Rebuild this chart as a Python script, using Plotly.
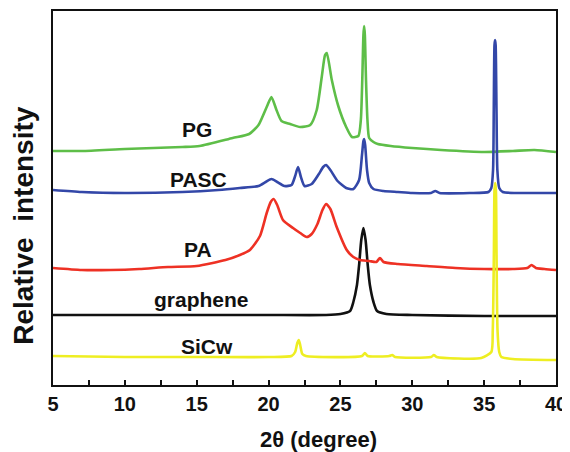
import plotly.graph_objects as go

# ---- data (2θ in degrees, relative intensity in arbitrary offset units) ----
pg_x = [5, 7, 10, 12, 14, 15.2, 17.5, 18.65, 19.3, 19.6, 19.9, 20.2, 20.55, 20.9, 21.5, 22.2, 22.9,
        23.35, 23.7, 23.93, 24.05, 24.4, 24.85, 25.4, 25.8, 26.25, 26.42, 26.52, 26.6, 26.65, 26.7,
        26.78, 26.88, 27.0, 27.3, 27.6, 28.5, 30, 32, 35, 37, 38.5, 40]
pg_y = [234, 234, 236, 237, 238, 239, 247, 251, 260, 269, 279, 288, 275, 264, 261, 258, 260,
        275, 308, 330, 332, 305, 279, 258, 248, 249, 265, 305, 350, 359, 350,
        305, 265, 247, 243, 241, 239, 237, 235, 233, 234, 235, 233]

pasc_x = [5, 7, 10, 14, 16.5, 18, 19.3, 19.8, 20.2, 20.6, 21.1, 21.6, 21.85, 22.05, 22.25, 22.5,
          23.0, 23.5, 23.8, 24.0, 24.3, 24.8, 25.4, 25.9, 26.3, 26.5, 26.6, 26.65, 26.72, 26.85,
          27.0, 27.3, 28, 29, 30, 31.3, 31.6, 31.9, 34, 35.3, 35.5, 35.62, 35.67, 35.72, 35.76,
          35.8, 35.86, 35.92, 36.05, 36.3, 38, 40]
pasc_y = [195, 193, 192, 193, 195, 197, 199, 203, 206, 203, 199, 200, 209, 218, 208, 199,
          201, 211, 218, 220, 215, 204, 197, 196, 205, 230, 244, 246, 240, 215,
          202, 196, 194, 193, 192, 192, 194, 192, 192, 193, 197, 215, 275, 340, 345,
          340, 275, 215, 197, 193, 192, 192]

pa_x = [5, 7, 9, 11, 13, 15, 17, 18, 18.7, 19.4, 19.87, 20.15, 20.35, 20.6, 21.0, 21.7, 22.2,
        22.65, 23.0, 23.4, 23.75, 24.0, 24.3, 24.74, 25.44, 25.9, 26.36, 27.0, 27.5, 27.75, 28.0,
        29, 31, 33, 35, 37, 38.0, 38.3, 38.6, 39.2, 40]
pa_y = [117, 115, 115, 116, 118, 119, 125, 130, 135, 149, 172, 183, 186, 180, 165, 157, 152,
        148, 151, 161, 175, 181, 176, 158, 135, 128, 125, 124, 123, 127, 123,
        121, 119, 117, 116, 116, 117, 120, 117, 116, 115]

gr_x = [5, 10, 15, 20, 24, 25.0, 25.67, 25.9, 26.15, 26.3, 26.45, 26.6, 26.75, 26.9, 27.05, 27.3,
        27.55, 28.2, 30, 35, 40]
gr_y = [70, 70, 70, 70, 70, 71, 74, 83, 100, 120, 145, 157, 145, 120, 100, 83,
        74, 71, 70, 69, 69]

sic_x = [5, 10, 15, 20, 21.6, 21.85, 22.0, 22.1, 22.2, 22.35, 22.6, 26.5, 26.7, 26.9, 28.4, 28.6,
         28.8, 31.3, 31.5, 31.7, 34.8, 35.5, 35.6, 35.68, 35.72, 35.77, 35.82, 35.86, 35.93, 36.05,
         36.2, 37, 40]
sic_y = [29, 28, 28, 28, 29, 33, 42, 45, 40, 31, 29, 29, 32, 29, 29, 30,
         28, 28, 30, 28, 27, 33, 55, 135, 195, 202, 195, 135, 55, 33,
         28, 26, 25]

x_ticks = [5, 7.5, 10, 12.5, 15, 17.5, 20, 22.5, 25, 27.5, 30, 32.5, 35, 37.5, 40]
x_tick_text = ["5", "", "10", "", "15", "", "20", "", "25", "", "30", "", "35", "", "40"]

FONT = "Liberation Sans, Arial, sans-serif"

series = [
    ("graphene", gr_x, gr_y, "#111111"),
    ("PA", pa_x, pa_y, "#EE3124"),
    ("SiCw", sic_x, sic_y, "#EEEE22"),
    ("PG", pg_x, pg_y, "#5EBE48"),
    ("PASC", pasc_x, pasc_y, "#3347A8"),
]

fig = go.Figure()
for name, xs, ys, col in series:
    fig.add_trace(go.Scatter(x=xs, y=ys, mode="lines", name=name,
                             line=dict(color=col, width=2.6, shape="spline", smoothing=0.6),
                             showlegend=False))

labels = [("PG", 15.0, 256), ("PASC", 15.1, 206), ("PA", 15.1, 136),
          ("graphene", 15.3, 86), ("SiCw", 15.7, 39)]
for txt, lx, ly in labels:
    fig.add_annotation(x=lx, y=ly, text=txt, showarrow=False, xanchor="center", yanchor="middle",
                       font=dict(family=FONT, size=21, color="#111", weight="bold"))

fig.add_annotation(xref="paper", yref="paper", x=0.527, y=-0.147, text="2θ (degree)",
                   xanchor="center", yanchor="middle", showarrow=False,
                   font=dict(family=FONT, size=22, color="#111", weight="bold"))
fig.add_annotation(xref="paper", yref="paper", x=-0.058, y=0.428, text="Relative  intensity",
                   xanchor="center", yanchor="middle", textangle=-90, showarrow=False,
                   font=dict(family=FONT, size=28, color="#111", weight="bold"))

# page body has an 8px default margin, so the figure is sized to fit the window from (8, 8)
fig.update_layout(
    width=562, height=444,
    margin=dict(l=45, r=14, t=3, b=67, autoexpand=False),
    plot_bgcolor="white", paper_bgcolor="white",
    xaxis=dict(range=[5, 40], tickvals=x_ticks, ticktext=x_tick_text, automargin=False,
               ticks="inside", ticklen=5, tickwidth=2, tickcolor="#111",
               showline=True, linecolor="#111", linewidth=2, mirror=True,
               showgrid=False, zeroline=False,
               tickfont=dict(family=FONT, size=20, color="#111", weight="bold")),
    yaxis=dict(range=[0, 374], showticklabels=False, ticks="", automargin=False,
               showline=True, linecolor="#111", linewidth=2, mirror=True,
               showgrid=False, zeroline=False),
)

fig.write_html("out.html")
